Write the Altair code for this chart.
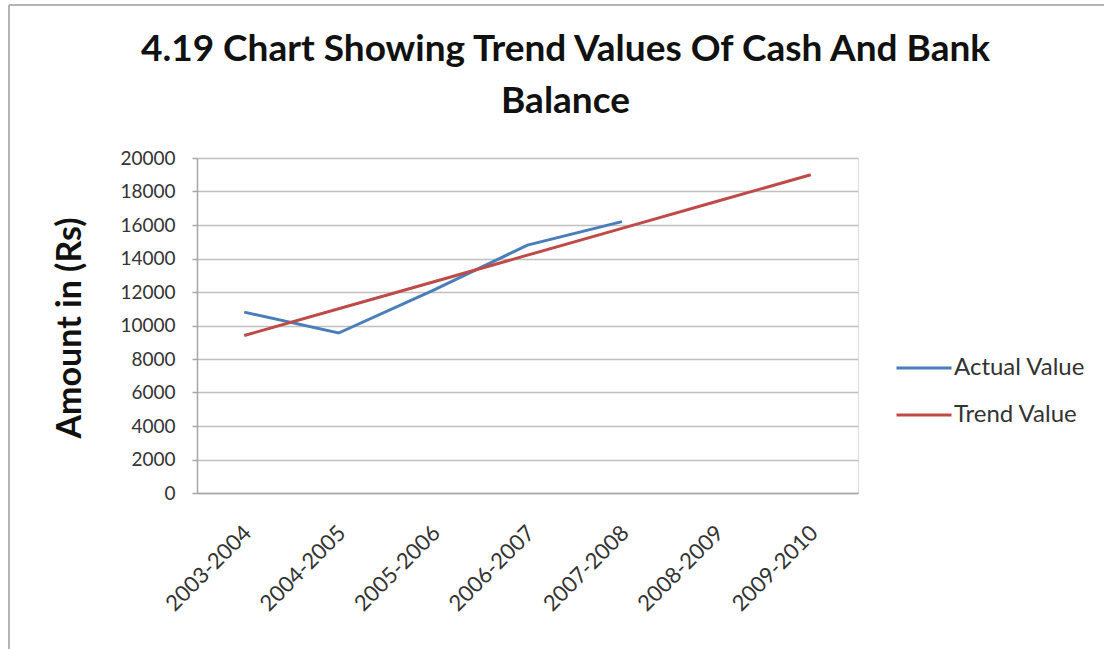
import altair as alt
import pandas as pd

categories = ["2003-2004", "2004-2005", "2005-2006", "2006-2007",
              "2007-2008", "2008-2009", "2009-2010"]
actual_values = [10800, 9550, 12100, 14800, 16200]
trend_values = [9400, 11000, 12600, 14200, 15800, 17400, 19000]
series_names = ["Actual Value", "Trend Value"]
series_colors = ["#4A7EBB", "#BE4B48"]
y_ticks = [0, 2000, 4000, 6000, 8000, 10000, 12000, 14000, 16000, 18000, 20000]

rows = []
for c, v in zip(categories, actual_values):
    rows.append({"Year": c, "Series": series_names[0], "Value": v})
for c, v in zip(categories, trend_values):
    rows.append({"Year": c, "Series": series_names[1], "Value": v})
df = pd.DataFrame(rows)

FONT = "Lato"
W, H = 661, 335
LEFT, TOP = 197, 158
FULL_W, FULL_H = 1104, 649

lines = alt.Chart(df).mark_line(strokeWidth=3).encode(
    x=alt.X("Year:N", sort=categories,
            scale=alt.Scale(domain=categories, padding=0.5),
            axis=alt.Axis(title=None, labelAngle=315, labelAlign="right",
                          labelBaseline="middle", labelPadding=36, labelOffset=3,
                          labelFont=FONT, labelFontSize=22, labelColor="#333333",
                          ticks=False, grid=False, domainColor="#a6a6a6",
                          domainWidth=1.5)),
    y=alt.Y("Value:Q",
            scale=alt.Scale(domain=[0, 20000], nice=False),
            axis=alt.Axis(title="Amount in (Rs)", values=y_ticks, format="d",
                          labelFont=FONT, labelFontSize=19, labelColor="#333333",
                          labelPadding=17,
                          titleFont=FONT, titleFontSize=34, titleFontWeight="bold",
                          titleColor="#111111", titleAngle=270,
                          titleX=-127, titleY=H / 2 + 2, titleAlign="center",
                          titleBaseline="middle",
                          tickColor="#a6a6a6", tickSize=5, tickWidth=1.5,
                          gridColor="#c0c0c0", gridWidth=1.5,
                          domainColor="#a6a6a6", domainWidth=1.5)),
    color=alt.Color("Series:N",
                    scale=alt.Scale(domain=series_names, range=series_colors),
                    legend=alt.Legend(title=None, orient="none",
                                      legendX=698, legendY=181,
                                      symbolType="stroke", symbolSize=3025,
                                      symbolStrokeWidth=3, rowPadding=6,
                                      labelOffset=1,
                                      labelFont=FONT, labelFontSize=24,
                                      labelColor="#333333")),
)

# outer chart frame (top and left edges, as in the reference)
frame_src = alt.Data(values=[{"k": 0}])
frame_top = alt.Chart(frame_src).mark_rule(color="#b4b4b4", strokeWidth=2).encode(
    x=alt.value(9 - LEFT), x2=alt.value(FULL_W - LEFT), y=alt.value(5 - TOP))
frame_left = alt.Chart(frame_src).mark_rule(color="#b4b4b4", strokeWidth=2).encode(
    x=alt.value(9 - LEFT), y=alt.value(5 - TOP), y2=alt.value(FULL_H - TOP))

chart = alt.layer(lines, frame_top, frame_left).properties(
    width=W, height=H,
    autosize=alt.AutoSizeParams(type="none"),
    padding={"left": LEFT, "top": TOP, "right": FULL_W - LEFT - W, "bottom": FULL_H - TOP - H},
    title=alt.TitleParams(
        text=["4.19 Chart Showing Trend Values Of Cash And Bank", "Balance"],
        font=FONT, fontSize=37, fontWeight="bold", color="#111111",
        anchor="middle", frame="group", baseline="alphabetic",
        lineHeight=52, offset=-146, dx=38),
).configure_view(stroke=None).configure(background="white")

chart.save("out.html", embed_options={"renderer": "svg", "actions": False})
